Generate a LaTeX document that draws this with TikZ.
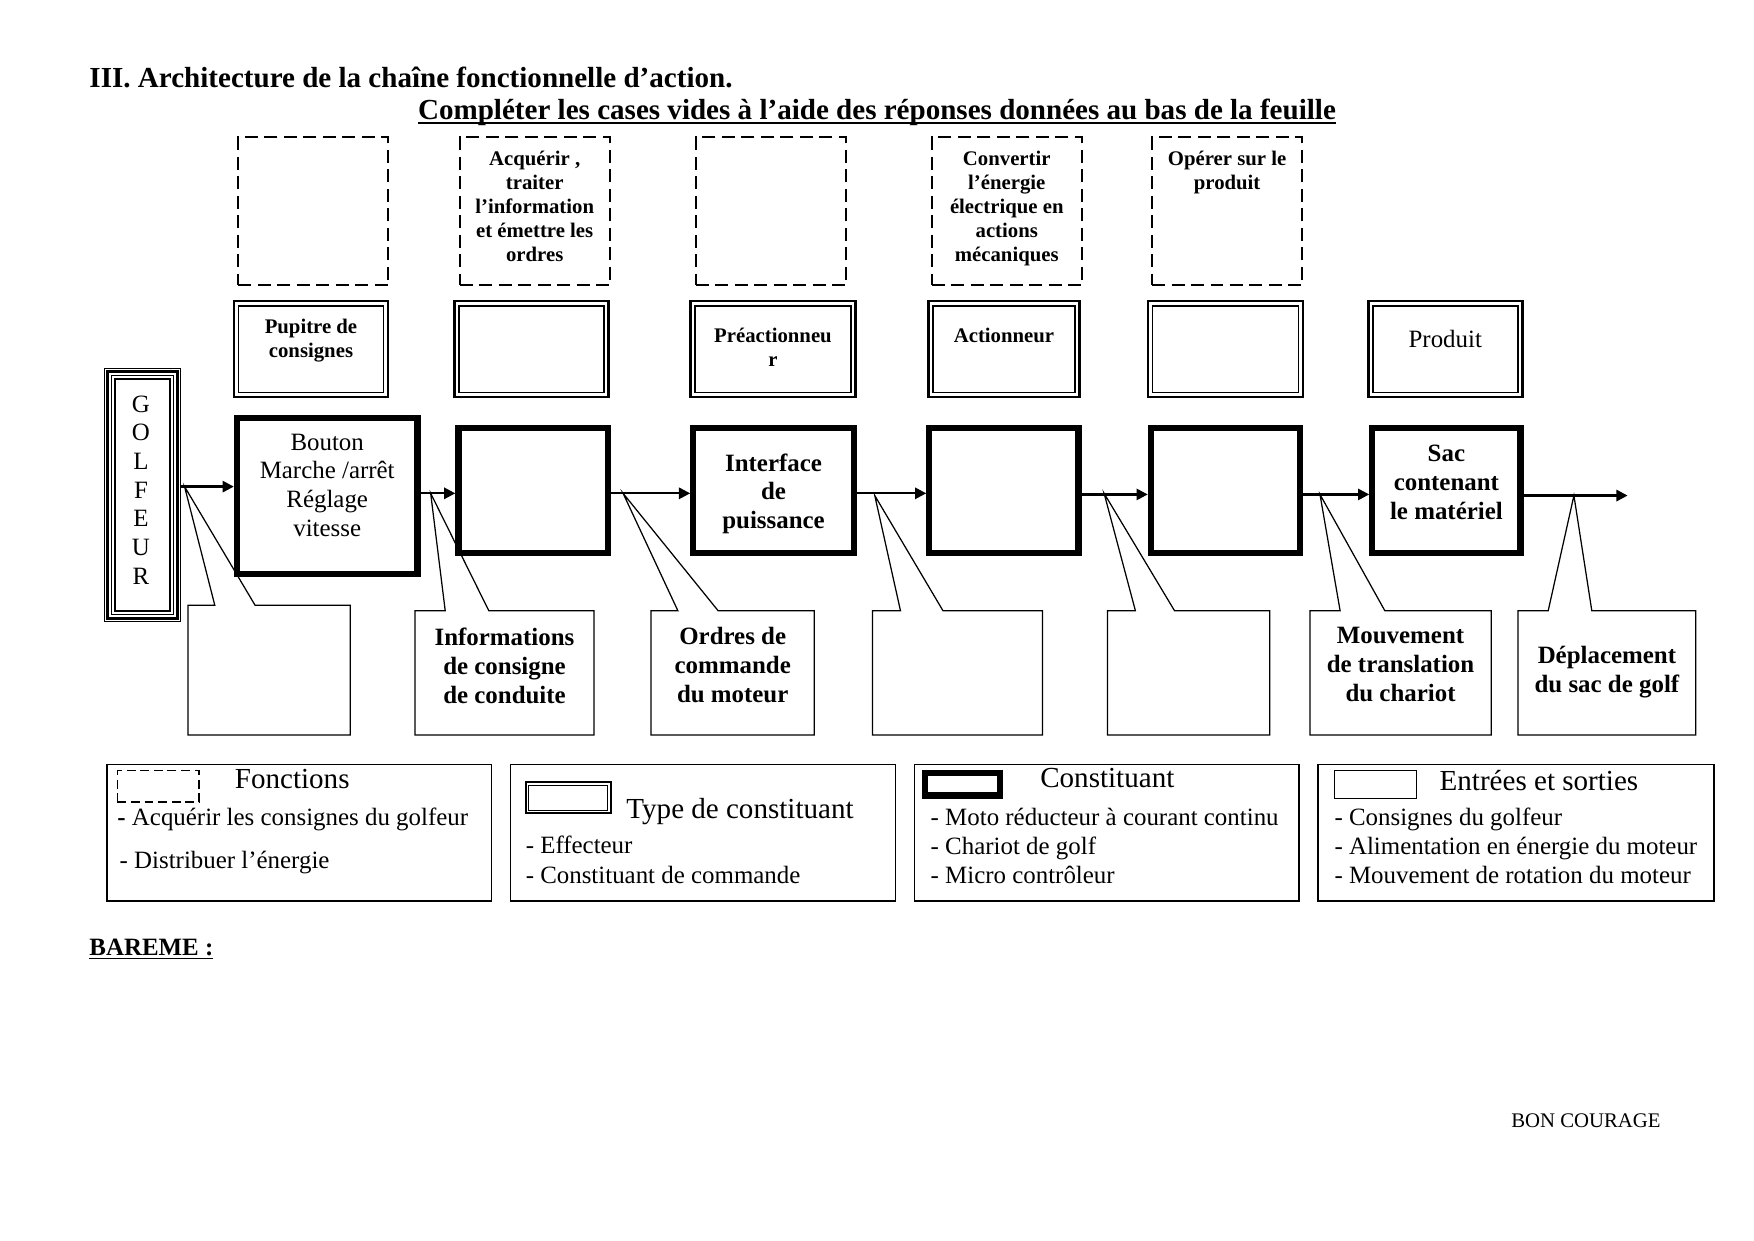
\documentclass[tikz,border=0pt]{standalone}
\usepackage{fontspec}
\setmainfont{Liberation Serif}
\usetikzlibrary{arrows.meta,calc}
\begin{document}
\begin{tikzpicture}[x=0.18941mm,y=-0.18941mm,
  sz/.style 2 args={minimum width={#1*0.18941mm}, minimum height={#2*0.18941mm}, inner sep=0pt},
  fnbox/.style={draw, line width=0.9pt, dash pattern=on 2.2mm off 1.1mm},
  typebox/.style={draw, line width=1.3pt},
  compbox/.style={draw, line width=3pt},
  iobox/.style={outer sep=0pt},
  legbox/.style={draw, line width=0.8pt},
  golfbox/.style={draw, line width=0.5pt},
  lbl/.style={inner sep=0pt, outer sep=0pt, align=center},
  txt/.style={inner sep=0pt, outer sep=0pt, anchor=base west},
  fsb/.style={font=\fontsize{10}{11.6}\selectfont\bfseries},
  fmb/.style={font=\fontsize{12}{14}\selectfont\bfseries},
  fm/.style={font=\fontsize{12}{13.8}\selectfont},
  fl/.style={font=\fontsize{14}{16}\selectfont},
  flow/.style={line width=1.1pt, -{Triangle[length=1.9mm,width=1.9mm]}},
  tail/.style={line width=0.6pt, line join=miter}
]
\path[use as bounding box, fill=white] (0,0) rectangle (1568,1109);

% titles
\node[txt, font=\fontsize{14}{16}\selectfont\bfseries] (title) at (80,78) {III. Architecture de la chaîne fonctionnelle d’action.};
\node[inner sep=0pt, outer sep=0pt, anchor=base, font=\fontsize{14}{16}\selectfont\bfseries] (sub) at (784,107) {Compléter les cases vides à l’aide des réponses données au bas de la feuille};
\draw[line width=0.9pt] ([yshift=-1.6pt]sub.base west) -- ([yshift=-1.6pt]sub.base east);

% function boxes (dashed)
\node[fnbox, sz={134.3}{132.3}] (d1) at (280,189) {};
\node[fnbox, sz={134.3}{132.3}] (d2) at (478,189) {};
\node[fnbox, sz={134.3}{132.3}] (d3) at (689,189) {};
\node[fnbox, sz={134.3}{132.3}] (d4) at (900,189) {};
\node[fnbox, sz={134.3}{132.3}] (d5) at (1097,189) {};
\node[lbl, fsb, anchor=north] (td2) at (478,135) {Acquérir ,\\traiter\\l’information\\et émettre les\\ordres};
\node[lbl, fsb, anchor=north] (td4) at (900,135) {Convertir\\l’énergie\\électrique en\\actions\\mécaniques};
\node[lbl, fsb, anchor=north] (td5) at (1097,135) {Opérer sur le\\produit};

% type boxes (double)
\node[typebox, sz={137.6}{85.6}] (db1) at (278,312) {};
\node[typebox, sz={137.6}{85.6}] (db2) at (475,312) {};
\node[typebox, sz={147.6}{85.6}] (db3) at (691,312) {};
\node[typebox, sz={134.6}{85.6}] (db4) at (897.5,312) {};
\node[typebox, sz={138.6}{85.6}] (db5) at (1095.5,312) {};
\node[typebox, sz={137.6}{85.6}] (db6) at (1292,312) {};
\foreach \n in {db1,db2,db3,db4,db5,db6}
  \draw[line width=0.8pt] ([xshift=1mm,yshift=-1mm]\n.north west) rectangle ([xshift=-1mm,yshift=1mm]\n.south east);
\node[lbl, fsb, anchor=north] (tdb1) at (278,285) {Pupitre de\\consignes};
\node[lbl, fsb, anchor=north] (tdb3) at (691,293) {Préactionneu\\r};
\node[lbl, fsb, anchor=north] (tdb4) at (897.5,293) {Actionneur};
\node[lbl, fm, anchor=north] (tdb6) at (1292,295) {Produit};

% golfeur
\node[golfbox, sz={68.5}{226.5}] (golf) at (127.5,442.5) {};
\draw[line width=1.6pt] ([xshift=0.63mm,yshift=-0.63mm]golf.north west) rectangle ([xshift=-0.63mm,yshift=0.63mm]golf.south east);
\draw[line width=0.5pt] ([xshift=1.27mm,yshift=-1.27mm]golf.north west) rectangle ([xshift=-1.27mm,yshift=1.27mm]golf.south east);
\draw[line width=1.2pt] ([xshift=1.91mm,yshift=-1.91mm]golf.north west) rectangle ([xshift=-1.91mm,yshift=1.91mm]golf.south east);
\node[lbl, fm] (tgolf) at (126,438) {G\\O\\L\\F\\E\\U\\R};

% component boxes (thick)
\node[compbox, sz={161.4}{139.4}] (t1) at (292.5,443.5) {};
\node[compbox, sz={133.4}{111.4}] (t2) at (476.5,438.5) {};
\node[compbox, sz={143.4}{111.4}] (t3) at (691.5,438.5) {};
\node[compbox, sz={133.4}{111.4}] (t4) at (897.5,438.5) {};
\node[compbox, sz={133.4}{111.4}] (t5) at (1095.5,438.5) {};
\node[compbox, sz={132.4}{111.4}] (t6) at (1293,438.5) {};
\node[lbl, fm, anchor=north] (tt1) at (292.5,388) {Bouton\\Marche /arrêt\\Réglage\\vitesse};
\node[lbl, font=\fontsize{12}{13.8}\selectfont\bfseries, anchor=north] (tt3) at (691.5,405.5) {Interface\\de\\puissance};
\node[lbl, font=\fontsize{12}{13.8}\selectfont\bfseries, anchor=north] (tt6) at (1293,398) {Sac\\contenant\\le matériel};

% flow arrows
\coordinate (ya) at (0,435);
\coordinate (yb) at (0,441);
\coordinate (yc) at (0,442);
\coordinate (yd) at (0,443);
\coordinate (fin) at (1455,443);
\draw[flow] (golf.east |- ya) -- (t1.west |- ya);
\draw[flow] (t1.east |- yb) -- (t2.west |- yb);
\draw[flow] (t2.east |- yb) -- (t3.west |- yb);
\draw[flow] (t3.east |- yb) -- (t4.west |- yb);
\draw[flow] (t4.east |- yc) -- (t5.west |- yc);
\draw[flow] (t5.east |- yc) -- (t6.west |- yc);
\draw[flow] (t6.east |- yd) -- (fin);

% callouts
\coordinate (p1) at (165,435);
\coordinate (p2) at (385,441);
\coordinate (p3) at (557,441);
\coordinate (p4) at (782,443);
\coordinate (p5) at (987,441);
\coordinate (p6) at (1180,442);
\coordinate (p7) at (1407,443);
\node[iobox, sz={145}{116}] (c1) at (240.5,599) {};
\node[iobox, sz={160}{111}] (c2) at (451,601.5) {};
\node[iobox, sz={146}{111}] (c3) at (655,601.5) {};
\node[iobox, sz={152}{111}] (c4) at (856,601.5) {};
\node[iobox, sz={145}{111}] (c5) at (1062.5,601.5) {};
\node[iobox, sz={162}{111}] (c6) at (1252,601.5) {};
\node[iobox, sz={159}{111}] (c7) at (1436.5,601.5) {};
\foreach \c/\p/\a/\b in {c1/p1/24/60, c2/p2/27/66, c3/p3/24/60, c4/p4/25/63, c5/p5/25/60, c6/p6/27/67, c7/p7/27/66}
  \draw[tail] (\c.north west) -- ($(\c.north west)+(\a,0)$) -- (\p) -- ($(\c.north west)+(\b,0)$) -- (\c.north east) -- (\c.south east) -- (\c.south west) -- cycle;
\node[lbl, fmb, anchor=north] (tc2) at (451,561) {Informations\\de consigne\\de conduite};
\node[lbl, fmb, anchor=north] (tc3) at (655,561) {Ordres de\\commande\\du moteur};
\node[lbl, fmb, anchor=north] (tc6) at (1252,561) {Mouvement\\de translation\\du chariot};
\node[lbl, fmb, anchor=north] (tc7) at (1436.5,577.5) {Déplacement\\du sac de golf};

% legend
\node[legbox, sz={344}{122}] (L1) at (267.5,744.5) {};
\node[legbox, sz={344}{122}] (L2) at (628.5,744.5) {};
\node[legbox, sz={344}{122}] (L3) at (989.5,744.5) {};
\node[legbox, sz={354}{122}] (L4) at (1355.5,744.5) {};
\node[draw, line width=0.6pt, dash pattern=on 1.5mm off 0.8mm, sz={73}{28}] (k1) at (141.5,703) {};
\node[draw, line width=1pt, sz={76}{28}] (k2) at (508,713) {};
\draw[line width=0.5pt] ([xshift=0.7mm,yshift=-0.7mm]k2.north west) rectangle ([xshift=-0.7mm,yshift=0.7mm]k2.south east);
\node[draw, line width=3pt, sz={67.4}{20.4}] (k3) at (860.5,701) {};
\node[draw, line width=0.6pt, sz={73}{25}] (k4) at (1229.5,701.5) {};

\node[txt, fl] (h1) at (210,705) {Fonctions};
\node[txt, fm] (i11) at (105,738) {{\bfseries -} Acquérir les consignes du golfeur};
\node[txt, fm] (i12) at (107,776) {- Distribuer l’énergie};
\node[txt, fl] (h2) at (560,732) {Type de constituant};
\node[txt, fm] (i21) at (470,763) {- Effecteur};
\node[txt, fm] (i22) at (470,790) {- Constituant de commande};
\node[txt, fl] (h3) at (930,704) {Constituant};
\node[txt, fm] (i31) at (832,738) {- Moto réducteur à courant continu};
\node[txt, fm] (i32) at (832,764) {- Chariot de golf};
\node[txt, fm] (i33) at (832,790) {- Micro contrôleur};
\node[txt, fl] (h4) at (1287,707) {Entrées et sorties};
\node[txt, fm] (i41) at (1193,738) {- Consignes du golfeur};
\node[txt, fm] (i42) at (1193,764) {- Alimentation en énergie du moteur};
\node[txt, fm] (i43) at (1193,790) {- Mouvement de rotation du moteur};

% footer
\node[txt, font=\fontsize{12}{14}\selectfont\bfseries] (bar) at (80,854) {BAREME :};
\draw[line width=0.8pt] ([yshift=-1.5pt]bar.base west) -- ([yshift=-1.5pt]bar.base east);
\node[txt, font=\fontsize{10}{12}\selectfont] (bon) at (1351,1008) {BON COURAGE};
\end{tikzpicture}
\end{document}
